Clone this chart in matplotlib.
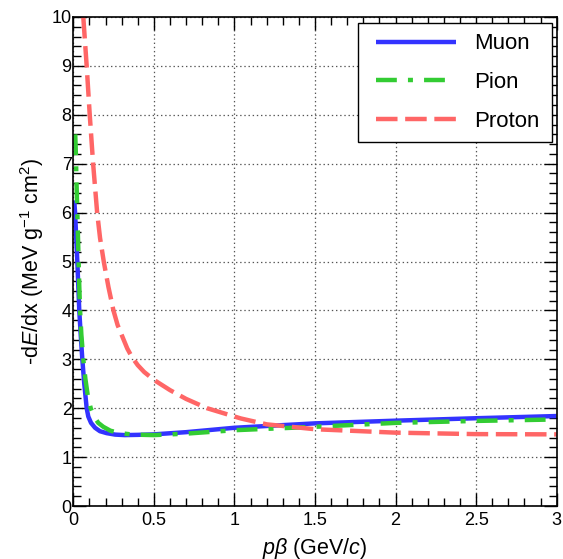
import matplotlib
matplotlib.use("Agg")
import matplotlib.pyplot as plt
from matplotlib.ticker import MultipleLocator
from matplotlib.lines import Line2D
from matplotlib.legend_handler import HandlerLine2D

plt.rcParams['font.family'] = ['Liberation Sans', 'DejaVu Sans']
plt.rcParams['mathtext.fontset'] = 'custom'
plt.rcParams['mathtext.rm'] = 'Liberation Sans'
plt.rcParams['mathtext.it'] = 'Liberation Sans:italic'
plt.rcParams['lines.scale_dashes'] = False

# ---- data ----
muon_pb = [0.006, 0.011, 0.018, 0.025, 0.031, 0.037, 0.046, 0.056, 0.068, 0.083, 0.093,
           0.110, 0.135, 0.165, 0.207, 0.26, 0.32, 0.40, 0.50, 0.70, 1.0, 1.5, 2.0, 2.5, 3.0]
muon_dedx = [6.25, 6.0, 5.5, 5.0, 4.5, 4.0, 3.5, 3.0, 2.5, 2.0, 1.83,
             1.70, 1.60, 1.53, 1.49, 1.46, 1.45, 1.455, 1.465, 1.51, 1.60, 1.69, 1.745, 1.795, 1.84]

pion_pb = [0.012, 0.015, 0.020, 0.025, 0.029, 0.033, 0.037, 0.042, 0.050, 0.062, 0.075,
           0.090, 0.108, 0.130, 0.155, 0.186, 0.23, 0.29, 0.37, 0.50, 0.70, 1.0, 1.5, 2.0, 2.5, 3.0]
pion_dedx = [7.6, 7.3, 6.6, 6.0, 5.5, 5.0, 4.5, 4.0, 3.5, 3.0, 2.6,
             2.25, 2.0, 1.82, 1.70, 1.62, 1.54, 1.49, 1.46, 1.45, 1.48, 1.55, 1.62, 1.70, 1.74, 1.77]

proton_pb = [0.062, 0.083, 0.102, 0.123, 0.148, 0.166, 0.19, 0.218, 0.249, 0.275, 0.305,
             0.335, 0.365, 0.40, 0.44, 0.50, 0.60, 0.70, 0.83, 1.04, 1.2, 1.5, 2.0, 2.5, 3.0]
proton_dedx = [10.0, 9.0, 8.0, 7.0, 6.0, 5.48, 4.98, 4.48, 4.0, 3.7, 3.46,
               3.22, 3.04, 2.88, 2.74, 2.58, 2.37, 2.19, 2.0, 1.79, 1.67, 1.57, 1.50, 1.47, 1.465]

labels = ["Muon", "Pion", "Proton"]
colors = ["#3333ff", "#33cc33", "#ff6666"]

# ---- figure ----
fig = plt.figure(figsize=(5.63, 5.59), dpi=100)
ax = fig.add_axes([0.1302, 0.0948, 0.8586, 0.8748])

lw = 3.2
ax.plot(muon_pb, muon_dedx, color=colors[0], lw=lw, label=labels[0], solid_capstyle='butt')
ax.plot(pion_pb, pion_dedx, color=colors[1], lw=lw, label=labels[1],
        dashes=(15, 8, 3.6, 8), dash_capstyle='butt')
ax.plot(proton_pb, proton_dedx, color=colors[2], lw=lw, label=labels[2],
        dashes=(15.5, 5.5), dash_capstyle='butt')

ax.set_xlim(0, 3)
ax.set_ylim(0, 10)

ax.xaxis.set_major_locator(MultipleLocator(0.5))
ax.xaxis.set_minor_locator(MultipleLocator(0.1))
ax.yaxis.set_major_locator(MultipleLocator(1))
ax.yaxis.set_minor_locator(MultipleLocator(0.2))
ax.set_xticks([0, 0.5, 1, 1.5, 2, 2.5, 3])
ax.set_xticklabels(["0", "0.5", "1", "1.5", "2", "2.5", "3"])

ax.tick_params(which='both', direction='in', top=True, right=True, width=1.0, colors='black')
ax.tick_params(which='major', length=9.5, labelsize=13, pad=4)
ax.tick_params(axis='y', which='major', pad=1.2)
ax.tick_params(which='minor', length=5.5)

ax.grid(True, which='major', color='#555555', linestyle=(0, (1, 2)), linewidth=0.9)
for s in ax.spines.values():
    s.set_linewidth(1.2)

ax.set_xlabel(r'$\mathit{p\beta}$ (GeV/$\mathit{c}$)', fontsize=15.5, labelpad=5)
ax.set_ylabel(r'-d$\mathit{E}$/dx (MeV g$^{-1}$ cm$^{2}$)', fontsize=15.5, labelpad=4)

leg = ax.legend(loc='upper left', bbox_to_anchor=(0.5896, 0.9871, 0.4001, 0.0),
                mode='expand', fontsize=16, handlelength=3.96, handletextpad=0.8,
                labelspacing=0.8, borderpad=0.45, borderaxespad=0.0,
                fancybox=False, framealpha=1.0, edgecolor='black',
                handler_map={Line2D: HandlerLine2D(xpad=0.36)})
leg.get_frame().set_linewidth(1.0)

fig.savefig("out.png", dpi=100)
